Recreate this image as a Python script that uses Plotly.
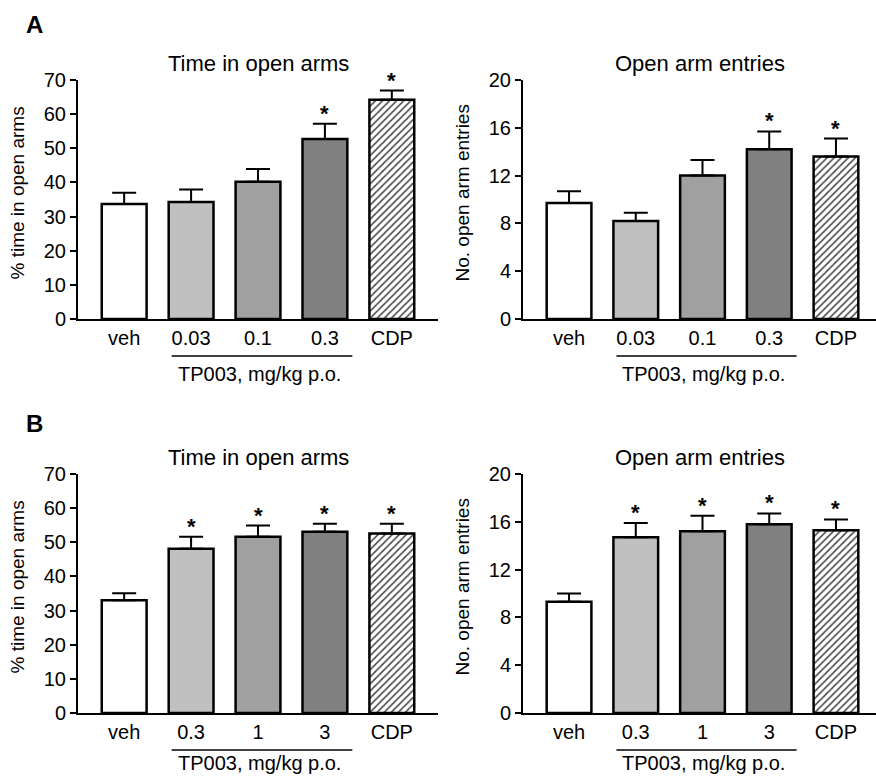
import plotly.graph_objects as go

# ---------------- data ----------------
cats_A = ["veh", "0.03", "0.1", "0.3", "CDP"]
cats_B = ["veh", "0.3", "1", "3", "CDP"]

A_time_mean = [33.7, 34.3, 40.2, 52.7, 64.2]
A_time_sem = [3.3, 3.6, 3.7, 4.5, 2.7]
A_entries_mean = [9.7, 8.2, 12.0, 14.2, 13.6]
A_entries_sem = [1.0, 0.7, 1.3, 1.5, 1.5]

B_time_mean = [33.0, 48.1, 51.6, 53.1, 52.6]
B_time_sem = [2.1, 3.5, 3.3, 2.3, 2.8]
B_entries_mean = [9.3, 14.7, 15.2, 15.8, 15.3]
B_entries_sem = [0.7, 1.2, 1.3, 0.9, 0.9]

A_sig = [False, False, False, True, True]
B_sig = [False, True, True, True, True]

time_ticks = [0, 10, 20, 30, 40, 50, 60, 70]
entry_ticks = [0, 4, 8, 12, 16, 20]

titles = ["Time in open arms", "Open arm entries"]
ytitles = ["% time in open arms", "No. open arm entries"]
group_label = "TP003, mg/kg p.o."

# ---------------- style ----------------
FONT = "Liberation Sans, Arial, sans-serif"
fills = ["#ffffff", "#c0c0c0", "#a0a0a0", "#808080", "#ffffff"]
W, H = 876, 777

def px_x(p):
    return p / W

def px_y(p):
    return 1 - p / H

panels = [
    ("x", "y", cats_A, A_time_mean, A_time_sem, A_sig, 70, time_ticks, (78, 438), (319, 80), 0, 55),
    ("x2", "y2", cats_A, A_entries_mean, A_entries_sem, A_sig, 20, entry_ticks, (523, 876), (319, 80), 1, 55),
    ("x3", "y3", cats_B, B_time_mean, B_time_sem, B_sig, 70, time_ticks, (78, 438), (713, 474), 0, 50),
    ("x4", "y4", cats_B, B_entries_mean, B_entries_sem, B_sig, 20, entry_ticks, (523, 876), (713, 474), 1, 50),
]

fig = go.Figure()
annotations = []
shapes = []

for i, (xa, ya, cats, mean, sem, sig, ymax, ticks, xd, yd, kind, glab_off) in enumerate(panels):
    pos = list(range(len(cats)))
    pattern_shapes = ["", "", "", "", "/"]
    fig.add_trace(go.Bar(
        x=pos, y=mean, xaxis=xa, yaxis=ya, width=0.67,
        marker=dict(color=fills, line=dict(color="black", width=2.5),
                    pattern=dict(shape=pattern_shapes, fgcolor="black", fgopacity=1,
                                 size=5, solidity=0.3, fillmode="overlay")),
        error_y=dict(type="data", symmetric=False, array=sem, arrayminus=[0] * len(sem),
                     width=12, thickness=2, color="black"),
        showlegend=False, hoverinfo="skip",
    ))
    sfx = "" if i == 0 else str(i + 1)
    fig.update_layout(**{
        "xaxis" + sfx: dict(
            domain=[px_x(xd[0]), px_x(xd[1])], anchor=ya,
            range=[-0.69, 4.69 if kind == 0 else 4.6],
            tickvals=pos, ticktext=cats,
            showline=True, linecolor="black", linewidth=2, ticks="",
            showgrid=False, zeroline=False, fixedrange=True, automargin=False,
            tickfont=dict(family=FONT, size=20, color="black"),
        ),
        "yaxis" + sfx: dict(
            domain=[px_y(yd[0]), px_y(yd[1])], anchor=xa,
            range=[0, ymax], tickvals=ticks,
            showline=True, linecolor="black", linewidth=2,
            ticks="outside", ticklen=6, tickwidth=2, tickcolor="black",
            showgrid=False, zeroline=False, fixedrange=True, automargin=False,
            tickfont=dict(family=FONT, size=20, color="black"),
        ),
    })
    # significance stars
    for j, s in enumerate(sig):
        if s:
            annotations.append(dict(
                x=pos[j], y=mean[j] + sem[j], xref=xa, yref=ya,
                text="<b>*</b>", showarrow=False, yanchor="bottom",
                yshift=-4, font=dict(family=FONT, size=22, color="black"),
            ))
    # panel title
    xc = 258 if kind == 0 else 700
    annotations.append(dict(
        x=px_x(xc), y=px_y(yd[1] - 17), xref="paper", yref="paper",
        text=titles[kind], showarrow=False, xanchor="center", yanchor="middle",
        font=dict(family=FONT, size=22, color="black"),
    ))
    # y title
    annotations.append(dict(
        x=px_x(17 if kind == 0 else 462), y=px_y((yd[0] + yd[1]) / 2 - 6),
        xref="paper", yref="paper", text=ytitles[kind], textangle=-90,
        showarrow=False, xanchor="center", yanchor="middle",
        font=dict(family=FONT, size=19, color="black"),
    ))
    # grouping line + label
    shapes.append(dict(
        type="line", xref=xa, yref="paper", x0=0.71, x1=3.41,
        y0=px_y(yd[0] + 37), y1=px_y(yd[0] + 37),
        line=dict(color="black", width=1.5),
    ))
    annotations.append(dict(
        x=2.02, y=px_y(yd[0] + glab_off), xref=xa, yref="paper",
        text=group_label, showarrow=False, xanchor="center", yanchor="middle",
        font=dict(family=FONT, size=20, color="black"),
    ))

# panel letters
for letter, ypx in [("A", 25), ("B", 424)]:
    annotations.append(dict(
        x=px_x(34), y=px_y(ypx), xref="paper", yref="paper",
        text="<b>" + letter + "</b>", showarrow=False, xanchor="center", yanchor="middle",
        font=dict(family=FONT, size=24, color="black"),
    ))

fig.update_layout(
    template="none",
    width=W, height=H, margin=dict(l=0, r=0, t=0, b=0, pad=0, autoexpand=False),
    plot_bgcolor="white", paper_bgcolor="white", hovermode=False,
    annotations=annotations, shapes=shapes,
    font=dict(family=FONT, color="black"),
)

fig.write_html("out.html", config={"displayModeBar": False},
               post_script="document.body.style.margin='0px';")
